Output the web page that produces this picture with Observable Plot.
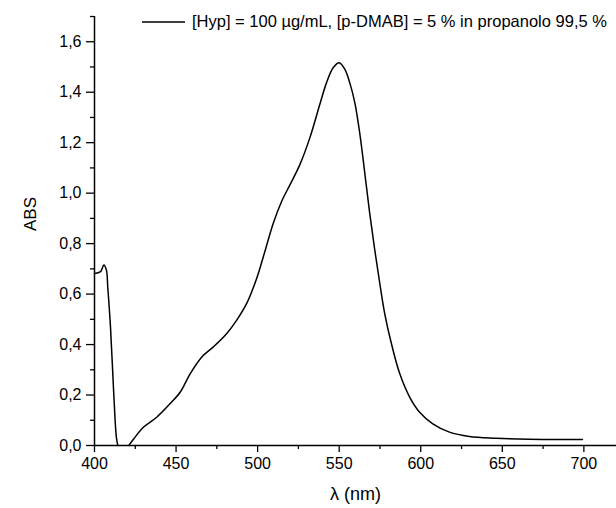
<!DOCTYPE html>
<html><head><meta charset="utf-8">
<script src="https://cdn.jsdelivr.net/npm/d3@7"></script>
<script src="https://cdn.jsdelivr.net/npm/@observablehq/plot@0.6"></script>
<style>
body{margin:0;background:#fff;font-family:"Liberation Sans",Arial,sans-serif}
#wrap{position:relative;width:616px;height:508px;overflow:hidden}
#legend{position:absolute;left:142px;top:12px;font-size:16.5px;display:flex;align-items:center;white-space:nowrap;color:#000}
</style></head><body>
<div id="wrap"><div id="legend"><svg width="43" height="4"><line x1="0" x2="43" y1="2" y2="2" stroke="#000" stroke-width="1.5"/></svg><span id="legtext" style="margin-left:7px"></span></div></div>
<script>
// segment 1 (short band near 405 nm)
const wl1  = [400, 403.7, 405.7, 407.3, 408.1, 409.8, 411.8, 413.4, 414.3];
const abs1 = [0.682, 0.689, 0.715, 0.695, 0.63, 0.47, 0.205, 0.033, 0.0];
// segment 2 (main band)
const wl2  = [421, 424, 430.1, 438.3, 446.4, 452.6, 458.7, 465.8, 472.9, 481.1, 487.2, 493.3, 499.4, 503.5, 509.6, 514.7, 519.8, 525.9, 532.0, 538.1, 542.2, 546.3, 550, 553.5, 556.5, 559.6, 562.6, 565.7, 568.7, 571.8, 574.9, 577.9, 582, 587.1, 593.2, 599.3, 607.4, 617.6, 629.8, 646.1, 666.5, 699.1];
const abs2 = [0.0, 0.026, 0.073, 0.113, 0.166, 0.212, 0.285, 0.351, 0.391, 0.444, 0.497, 0.563, 0.662, 0.748, 0.881, 0.967, 1.033, 1.113, 1.219, 1.351, 1.437, 1.497, 1.517, 1.49, 1.437, 1.358, 1.238, 1.079, 0.921, 0.775, 0.642, 0.523, 0.404, 0.285, 0.192, 0.132, 0.086, 0.053, 0.036, 0.029, 0.025, 0.024];

const xMajor = [400, 450, 500, 550, 600, 650, 700];
const xMinor = [425, 475, 525, 575, 625, 675];
const yMajor = [0, 0.2, 0.4, 0.6, 0.8, 1.0, 1.2, 1.4, 1.6];
const yMinor = [0.1, 0.3, 0.5, 0.7, 0.9, 1.1, 1.3, 1.5, 1.7];
const xLabel = "λ (nm)";
const yLabel = "ABS";
const legendLabel = "[Hyp] = 100 µg/mL, [p-DMAB] = 5 % in propanolo 99,5 %";

const data = [
  ...wl1.map((w, i) => ({w, a: abs1[i], seg: 1})),
  ...wl2.map((w, i) => ({w, a: abs2[i], seg: 2}))
];

document.getElementById("legtext").textContent = legendLabel;

const fmt = d => d.toFixed(1).replace(".", ",");

const chart = Plot.plot({
  width: 616, height: 508,
  marginLeft: 94, marginRight: 0, marginTop: 16, marginBottom: 63,
  style: {fontFamily: "Liberation Sans, Arial, sans-serif", fontSize: "16px", color: "#000", background: "transparent"},
  x: {domain: [400, 720]},
  y: {domain: [0, 1.7]},
  marks: [
    Plot.axisX(xMajor, {tickSize: 7, tickPadding: 5, tickFormat: d => String(d), label: null, strokeWidth: 1.3}),
    Plot.axisX(xMinor, {tickSize: 4, tickFormat: () => "", label: null, strokeWidth: 1.3}),
    Plot.axisY(yMajor, {tickSize: 8, tickPadding: 5, tickFormat: fmt, label: null, strokeWidth: 1.3}),
    Plot.axisY(yMinor, {tickSize: 4, tickFormat: () => "", label: null, strokeWidth: 1.3}),
    Plot.ruleY([0], {strokeWidth: 1.5}),
    Plot.ruleX([400], {y1: 0, y2: 1.7, strokeWidth: 1.5}),
    Plot.line(data, {x: "w", y: "a", z: "seg", stroke: "#000", strokeWidth: 1.5, curve: "catmull-rom"}),
    Plot.text([xLabel], {text: d => d, frameAnchor: "bottom", dy: 54, fontSize: 18}),
    Plot.text([yLabel], {text: d => d, frameAnchor: "left", dx: -64, rotate: -90, fontSize: 17})
  ]
});
document.getElementById("wrap").prepend(chart);
</script>
</body></html>
